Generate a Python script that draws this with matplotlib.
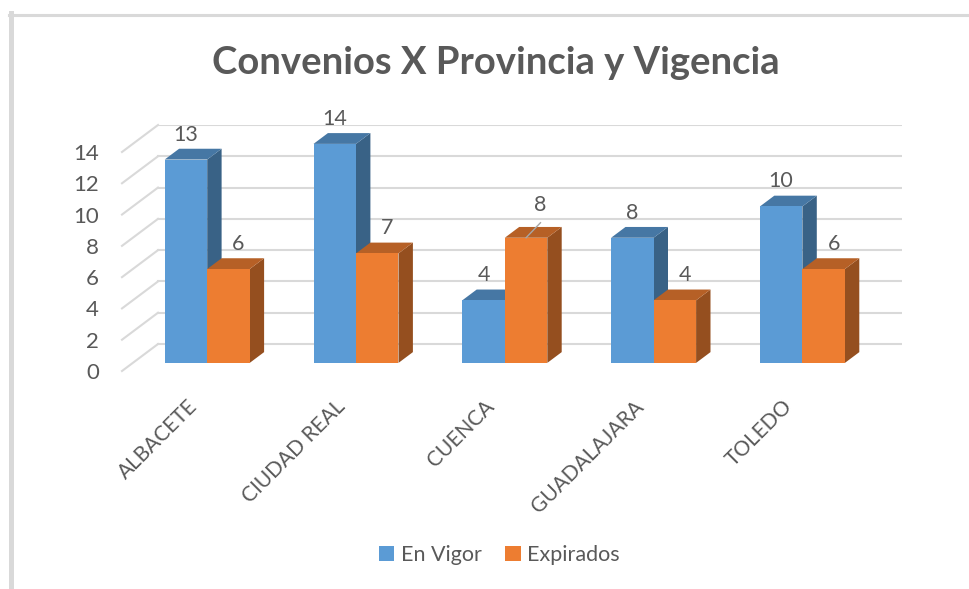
import matplotlib
matplotlib.use('Agg')
import matplotlib.pyplot as plt
from matplotlib.patches import Polygon, Patch
from matplotlib.lines import Line2D

# datos del grafico
provincias = ['ALBACETE', 'CIUDAD REAL', 'CUENCA', 'GUADALAJARA', 'TOLEDO']
en_vigor = [13, 14, 4, 8, 10]
expirados = [6, 7, 8, 4, 6]
y_ticks = [0, 2, 4, 6, 8, 10, 12, 14]
series = ['En Vigor', 'Expirados']
colores = ['#5B9BD5', '#ED7D31']

# "3D" falso: desplazamiento oblicuo de la pared del fondo (unidades de datos)
DX, DY = 0.242, 1.725
BAR_W = 0.2856
Z0, Z1 = 0.3, 0.7          # profundidad de las barras dentro del suelo
GRIS = '#595959'

plt.rcParams['font.family'] = ['Lato', 'DejaVu Sans']


def shade(hexcol, f):
    r, g, b = matplotlib.colors.to_rgb(hexcol)
    return (r * f, g * f, b * f)


def bar3d(ax, x0, v, col):
    x = x0 + Z0 * DX
    y = Z0 * DY
    ddx = (Z1 - Z0) * DX
    ddy = (Z1 - Z0) * DY
    side = [(x + BAR_W, y), (x + BAR_W, y + v), (x + BAR_W + ddx, y + v + ddy), (x + BAR_W + ddx, y + ddy)]
    top = [(x, y + v), (x + BAR_W, y + v), (x + BAR_W + ddx, y + v + ddy), (x + ddx, y + v + ddy)]
    ax.add_patch(Polygon(side, closed=True, fc=shade(col, 0.63), ec='none', zorder=2))
    ax.add_patch(Polygon(top, closed=True, fc=shade(col, 0.77), ec='none', zorder=2))
    ax.bar(x, v, width=BAR_W, bottom=y, align='edge', color=col, zorder=2)


fig = plt.figure(figsize=(9.7, 5.89), dpi=100)
ax = fig.add_axes([122 / 970, 1 - 371 / 589, 780 / 970, 246 / 589])
n = len(provincias)
ax.set_xlim(-0.5, n - 0.5 + DX)
ax.set_ylim(0, max(y_ticks) + DY)
ax.set_frame_on(False)

# rejilla: pared del fondo + diagonales del lateral izquierdo
for t in y_ticks:
    ax.plot([-0.5 + DX, n - 0.5 + DX], [t + DY, t + DY], color='#d9d9d9', lw=1.5, zorder=0.5)
    ax.plot([-0.5, -0.5 + DX], [t, t + DY], color='#d9d9d9', lw=1.5, zorder=0.5, clip_on=False)

for i in range(n):
    bar3d(ax, i - BAR_W, en_vigor[i], colores[0])
    bar3d(ax, i, expirados[i], colores[1])

    # etiquetas de datos
    ax.text(i - BAR_W / 2 + Z0 * DX, en_vigor[i] + Z0 * DY + 1.6, str(en_vigor[i]),
            ha='center', va='center', fontsize=15.5, color=GRIS)
    xo = i + BAR_W / 2 + Z0 * DX
    yo = expirados[i] + Z0 * DY
    if expirados[i] > en_vigor[i]:
        ax.plot([xo, xo + 0.097], [yo, yo + 0.96], color='#a6a6a6', lw=1, zorder=3)
        ax.text(xo + 0.097, yo + 2.1, str(expirados[i]), ha='center', va='center',
                fontsize=15.5, color=GRIS)
    else:
        ax.text(xo + 0.067, yo + 1.6, str(expirados[i]), ha='center', va='center',
                fontsize=15.5, color=GRIS)

    # etiqueta de categoria girada
    ax.text(i + 0.03, -1.62, provincias[i], rotation=45, ha='right', va='top',
            fontsize=15, color=GRIS, clip_on=False)

ax.set_xticks([])
ax.set_yticks(y_ticks)
ax.tick_params(axis='y', length=0, pad=16.5, labelsize=16, labelcolor=GRIS)

fig.text(495.5 / 970, 1 - 74 / 589, 'Convenios X Provincia y Vigencia', ha='center',
         va='baseline', fontsize=27.5, fontweight='bold', color=GRIS)

handles = [Patch(facecolor=c, edgecolor='none') for c in colores]
fig.legend(handles, series, loc='center', bbox_to_anchor=(499.5 / 970, 1 - 555 / 589),
           ncol=2, frameon=False, fontsize=15.5, labelcolor=GRIS, handlelength=0.7,
           handleheight=0.7, handletextpad=0.3, columnspacing=1.1)

# borde del area del grafico (recortado a la derecha y abajo)
fig.add_artist(Line2D([11.5 / 970, 11.5 / 970], [0, 1 - 13 / 589], color='#d9d9d9', lw=3.6,
                      transform=fig.transFigure))
fig.add_artist(Line2D([9 / 970, 1], [1 - 14.5 / 589, 1 - 14.5 / 589], color='#d9d9d9', lw=2.2,
                      transform=fig.transFigure))

fig.savefig('out.png', dpi=100)
